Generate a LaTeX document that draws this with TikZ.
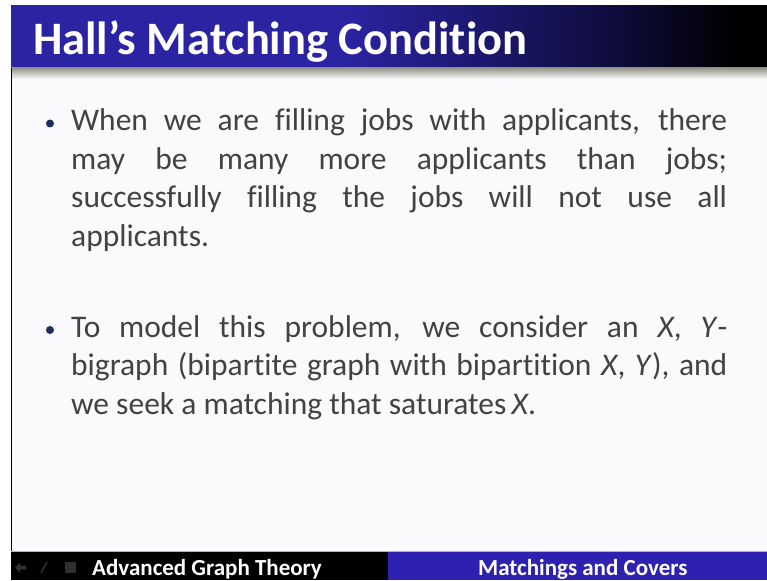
\documentclass[tikz,border=0pt]{standalone}
\usepackage{fontspec}
\setmainfont{Carlito}[Ligatures={NoCommon}]
\definecolor{tbblue}{RGB}{42,36,162}
\definecolor{tbdark}{RGB}{14,12,60}
\definecolor{botblue}{RGB}{46,32,176}
\definecolor{bodytext}{RGB}{66,66,66}
\definecolor{bulletc}{RGB}{28,46,92}
\definecolor{bodybg}{RGB}{250,250,252}
\definecolor{shadegray}{RGB}{150,150,140}
\definecolor{iconc}{RGB}{48,48,48}
\pgfdeclarehorizontalshading{titlebar}{100bp}{color(0bp)=(tbblue); color(25bp)=(tbblue); color(47bp)=(tbblue); color(65bp)=(tbdark); color(73bp)=(black); color(100bp)=(black)}
\tikzset{
  bodyline/.style={anchor=base west, inner sep=0pt, text=bodytext, font=\fontsize{31.5}{38.5}\selectfont},
  bulletdot/.style={circle, fill=bulletc, inner sep=0pt, minimum size=8pt},
  bartext/.style={anchor=base west, inner sep=0pt, text=white, font=\fontsize{23}{26}\selectfont\bfseries},
}
\begin{document}
\begin{tikzpicture}[x=1pt,y=1pt]
\useasboundingbox (0,0) rectangle (767,-580);
\fill[white] (0,0) rectangle (767,-580);
% body
\fill[bodybg] (12,-68) rectangle (767,-551);
% title bar
\shade[shading=titlebar] (11,-6) rectangle (767,-68);
\shade[top color=shadegray, bottom color=bodybg] (11,-68) rectangle (767,-79);
% left border
\draw[black, line width=1.5pt] (11.5,-68) -- (11.5,-551);
% bottom bar
\fill[black] (11,-551) rectangle (388,-580);
\fill[botblue] (388,-551) rectangle (767,-580);
\draw[gray!60, line width=0.6pt] (11,-551) -- (767,-551);
% faint icons
\fill[iconc] (15,-567.5) -- (20,-562.5) -- (20,-565.5) -- (26,-565.5) -- (26,-569.5) -- (20,-569.5) -- (20,-572.5) -- cycle;
\draw[iconc, line width=1.6pt] (41,-573) -- (47,-562);
\fill[iconc] (65,-562) rectangle (76,-573);
% title
\node[anchor=base west, inner sep=0pt, text=white, font=\fontsize{46.5}{50}\selectfont\bfseries] (title) at (33,-55) {Hall’s Matching Condition};
% bullet 1
\node[bulletdot] (b1) at (50,-123.5) {};
\node[bodyline] (l1) at (71,-130.5) {\makebox[656pt][s]{When we are filling jobs with applicants, there}};
\node[bodyline] (l2) at (71,-169) {\makebox[656pt][s]{may be many more applicants than jobs;}};
\node[bodyline] (l3) at (71,-207.5) {\makebox[656pt][s]{successfully filling the jobs will not use all}};
\node[bodyline] (l4) at (71,-246) {applicants.};
% bullet 2
\node[bulletdot] (b2) at (50,-330) {};
\node[bodyline] (m1) at (71,-337) {\makebox[656pt][s]{To model this problem, we consider an \textit{X}, \textit{Y}-}};
\node[bodyline] (m2) at (71,-375.5) {\makebox[656pt][s]{bigraph (bipartite graph with bipartition \textit{X}, \textit{Y}), and}};
\node[bodyline] (m3) at (71,-414) {we seek a matching that saturates\,\textit{X}.};
% bottom texts
\node[bartext] (left) at (92,-575) {Advanced Graph Theory};
\node[bartext] (right) at (478,-575) {Matchings and Covers};
\end{tikzpicture}
\end{document}
